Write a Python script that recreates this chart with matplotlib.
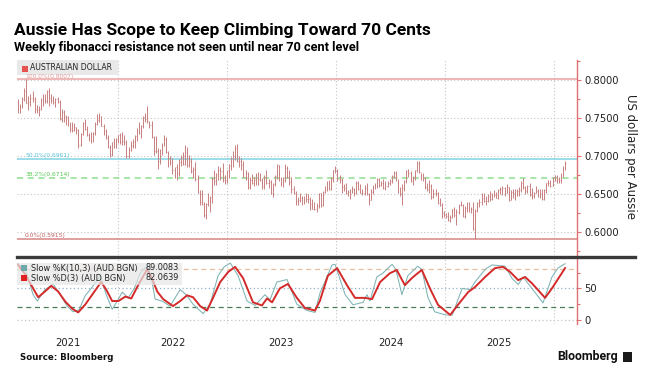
import matplotlib
matplotlib.use("Agg")
import matplotlib.pyplot as plt
import matplotlib.dates as mdates
from matplotlib.lines import Line2D
from matplotlib.patches import Rectangle
from matplotlib.ticker import FixedLocator, FixedFormatter, MultipleLocator, NullFormatter
import pandas as pd

plt.rcParams["font.family"] = ["DejaVu Sans"]

# ------------------------------------------------------------------
# weekly AUD/USD bars (week ending Friday)
# ------------------------------------------------------------------
FIRST_WEEK = "2021-01-29"
FIRST_OPEN = 0.771

week_close = [
    # 2021
    .764, .766, .775, .785, .770, .771, .776, .775, .762, .760, .762, .774, .774, .772, .785, .776, .773,
    .771, .775, .771, .749, .758, .751, .747, .740, .736, .734, .738, .734, .714, .729, .743, .735, .727,
    .727, .722, .730, .742, .747, .752, .740, .733, .724, .712, .702, .718, .713, .722, .727,
    # 2022
    .718, .720, .718, .700, .708, .713, .719, .726, .735, .730, .740, .751, .749, .746, .741, .725, .707,
    .707, .693, .704, .716, .722, .705, .698, .692, .681, .685, .677, .692, .699, .690, .711, .688, .693,
    .680, .683, .670, .652, .640, .637, .622, .637, .640, .646, .670, .667, .676, .681, .680, .669, .668, .681,
    # 2023
    .688, .697, .697, .711, .693, .693, .688, .673, .677, .659, .669, .664, .669, .667, .670, .669, .661,
    .673, .664, .666, .652, .663, .674, .688, .668, .666, .669, .684, .673, .666, .657, .651, .641, .642,
    .645, .639, .643, .644, .643, .637, .631, .630, .634, .651, .636, .653, .657, .666, .657, .670, .681, .682,
    # 2024
    .670, .668, .659, .658, .651, .653, .654, .656, .651, .665, .656, .652, .652, .658, .650, .642, .653,
    .661, .661, .670, .662, .665, .658, .661, .665, .667, .674, .678, .669, .654, .651, .658, .667, .680,
    .677, .667, .671, .681, .691, .679, .674, .671, .659, .657, .661, .646, .651, .651, .638, .636, .625, .621,
    # 2025
    .621, .616, .620, .630, .622, .627, .636, .636, .621, .632, .630, .628, .631, .604, .628, .638, .640,
    .645, .641, .641, .648, .643, .650, .649, .645, .655, .656, .658, .651, .659, .642, .653, .652, .649,
    .654, .655, .665, .659, .654, .660, .649, .648, .651, .654, .648, .654, .643, .655, .664, .665, .661, .672,
    # 2026
    .669, .670, .669, .675, .685, .691,
]
week_high = [
    .775, .768, .777, .789, .801, .779, .781, .785, .777, .767, .766, .776, .782, .782, .786, .789, .781,
    .779, .776, .778, .773, .762, .760, .754, .752, .744, .744, .743, .738, .735, .730, .745, .748, .740,
    .730, .732, .731, .744, .755, .756, .752, .742, .736, .728, .715, .719, .724, .724, .728,
    .730, .731, .727, .721, .712, .720, .722, .728, .737, .744, .741, .753, .756, .766, .746, .746, .726,
    .726, .710, .709, .717, .728, .725, .707, .700, .697, .686, .690, .696, .701, .705, .714, .712, .701,
    .698, .686, .692, .675, .655, .655, .640, .638, .652, .648, .672, .681, .678, .687, .685, .691, .675, .682,
    .689, .699, .706, .714, .716, .700, .698, .693, .681, .679, .672, .676, .673, .677, .679, .678, .671,
    .675, .682, .670, .669, .665, .675, .690, .688, .673, .672, .690, .687, .682, .672, .661, .654, .646,
    .652, .647, .648, .652, .650, .646, .643, .639, .638, .652, .652, .654, .660, .667, .669, .673, .682, .687,
    .683, .675, .671, .663, .665, .655, .656, .661, .658, .667, .667, .663, .656, .662, .664, .652, .656,
    .662, .664, .671, .671, .667, .670, .667, .667, .670, .675, .680, .680, .670, .659, .663, .669, .681,
    .683, .680, .674, .682, .693, .694, .678, .677, .672, .664, .669, .663, .656, .656, .653, .645, .638, .628,
    .625, .627, .622, .631, .633, .630, .637, .641, .637, .634, .639, .639, .633, .639, .630, .639, .644,
    .651, .651, .647, .650, .654, .652, .655, .653, .656, .659, .660, .659, .663, .659, .655, .657, .657,
    .656, .659, .667, .671, .661, .662, .664, .658, .653, .661, .656, .657, .656, .656, .665, .668, .668, .673,
    .675, .675, .673, .677, .687, .693,
]
week_low = [
    .757, .756, .763, .772, .769, .760, .765, .771, .756, .757, .753, .761, .766, .770, .769, .765, .770,
    .768, .764, .769, .747, .745, .745, .741, .739, .731, .732, .733, .729, .711, .713, .727, .734, .726,
    .720, .717, .718, .728, .741, .744, .739, .727, .722, .711, .699, .700, .710, .711, .717,
    .716, .715, .714, .697, .698, .707, .711, .710, .720, .729, .724, .737, .745, .743, .737, .723, .701,
    .704, .683, .689, .701, .713, .704, .685, .688, .676, .671, .668, .674, .687, .688, .688, .686, .685,
    .677, .671, .667, .651, .636, .635, .620, .617, .634, .627, .638, .662, .662, .668, .668, .666, .663, .664,
    .671, .682, .686, .695, .692, .686, .681, .672, .669, .657, .656, .663, .661, .662, .662, .667, .657,
    .657, .663, .658, .650, .646, .660, .670, .667, .660, .659, .666, .671, .662, .651, .650, .636, .636,
    .640, .636, .637, .640, .638, .629, .630, .629, .627, .632, .633, .634, .651, .654, .655, .655, .666, .677,
    .667, .664, .652, .654, .650, .647, .644, .651, .648, .650, .655, .651, .649, .649, .649, .636, .642,
    .650, .656, .658, .659, .660, .657, .655, .659, .662, .664, .671, .667, .651, .648, .635, .654, .665,
    .673, .666, .662, .669, .679, .677, .669, .667, .657, .654, .651, .643, .645, .648, .637, .634, .618, .620,
    .618, .615, .613, .619, .620, .609, .624, .634, .620, .619, .626, .627, .625, .603, .5915, .626, .633,
    .636, .640, .636, .640, .641, .642, .646, .645, .643, .650, .649, .648, .651, .641, .642, .645, .642,
    .647, .648, .653, .657, .650, .652, .648, .644, .645, .651, .646, .645, .642, .642, .652, .660, .659, .660,
    .667, .665, .664, .665, .672, .682,
]

# fibonacci retracement levels
fib_names = ["100.0%", "50.0%", "38.2%", "0.0%"]
fib_levels = [0.8007, 0.6961, 0.6714, 0.5915]
fib_line_colors = ["#eba3a3", "#7fd3e3", "#8fdf8f", "#d98585"]
fib_text_colors = ["#e49a9a", "#5cc6de", "#55c955", "#c25c5c"]
fib_styles = ["-", "-", (0, (4, 3)), "-"]

# slow stochastic
k_dates = [
    "2021-01-28", "2021-02-23", "2021-03-21", "2021-04-04", "2021-04-30", "2021-05-27", "2021-06-20",
    "2021-07-13", "2021-08-02", "2021-08-22", "2021-09-11", "2021-10-05", "2021-11-01", "2021-11-21",
    "2021-12-11", "2021-12-28", "2022-01-14", "2022-02-03", "2022-02-23", "2022-03-16", "2022-04-07",
    "2022-04-20", "2022-05-04", "2022-05-27", "2022-06-23", "2022-07-27", "2022-08-16", "2022-09-08",
    "2022-10-12", "2022-11-04", "2022-12-01", "2022-12-21", "2023-01-11", "2023-02-06", "2023-03-08",
    "2023-04-04", "2023-05-07", "2023-05-24", "2023-06-16", "2023-07-20", "2023-08-22", "2023-09-25",
    "2023-10-22", "2023-11-07", "2023-12-18", "2023-12-28", "2024-01-31", "2024-02-26", "2024-03-31",
    "2024-04-13", "2024-04-23", "2024-05-16", "2024-06-05", "2024-07-06", "2024-07-19", "2024-08-08",
    "2024-08-28", "2024-09-30", "2024-10-14", "2024-11-03", "2024-11-26", "2025-01-01", "2025-01-24",
    "2025-02-26", "2025-03-25", "2025-04-10", "2025-05-14", "2025-06-06", "2025-07-20", "2025-08-12",
    "2025-09-02", "2025-09-18", "2025-10-18", "2025-11-24", "2025-12-24", "2026-01-13", "2026-02-06",
]
k_vals = [
    88, 80, 40, 30, 48, 57, 40, 22, 13, 16, 38, 52, 70, 40, 17, 30, 44, 35, 50, 75, 85,
    70, 33, 30, 22, 48, 40, 25, 10, 25, 70, 84, 90, 70, 30, 23, 40, 32, 60, 64, 25, 15,
    12, 42, 87, 88, 40, 24, 28, 40, 30, 68, 74, 88, 80, 40, 70, 85, 80, 36, 13, 8, 8,
    50, 48, 60, 80, 87, 85, 66, 56, 68, 50, 27, 68, 82, 89,
]
d_dates = [
    "2021-01-28", "2021-02-23", "2021-03-21", "2021-04-07", "2021-04-27", "2021-05-21", "2021-06-13",
    "2021-07-07", "2021-07-30", "2021-08-19", "2021-09-11", "2021-10-05", "2021-11-04", "2021-11-21",
    "2021-12-11", "2022-01-01", "2022-01-24", "2022-02-13", "2022-03-08", "2022-04-07", "2022-04-24",
    "2022-05-11", "2022-05-31", "2022-07-03", "2022-07-27", "2022-08-19", "2022-09-08", "2022-10-02",
    "2022-10-25", "2022-11-14", "2022-12-08", "2023-01-04", "2023-01-27", "2023-02-23", "2023-03-28",
    "2023-04-27", "2023-05-14", "2023-05-31", "2023-06-26", "2023-07-23", "2023-08-22", "2023-09-18",
    "2023-10-22", "2023-11-07", "2023-12-04", "2024-01-04", "2024-02-06", "2024-03-04", "2024-04-06",
    "2024-04-30", "2024-05-27", "2024-06-29", "2024-07-22", "2024-08-18", "2024-09-10", "2024-09-30",
    "2024-10-14", "2024-11-10", "2024-12-07", "2025-01-17", "2025-02-12", "2025-03-18", "2025-04-10",
    "2025-05-14", "2025-06-16", "2025-07-13", "2025-08-06", "2025-09-02", "2025-09-25", "2025-10-18",
    "2025-12-01", "2025-12-24", "2026-02-06",
]
d_vals = [
    88, 72, 50, 36, 44, 54, 45, 29, 18, 12, 24, 40, 60, 48, 30, 30, 37, 34, 55, 80, 65,
    45, 33, 22, 30, 39, 36, 22, 15, 35, 60, 76, 84, 66, 28, 23, 34, 28, 50, 57, 35, 19,
    15, 30, 70, 82, 55, 35, 35, 33, 60, 74, 79, 55, 66, 74, 79, 50, 24, 8, 24, 44, 52,
    68, 82, 84, 76, 63, 68, 58, 35, 50, 82,
]
K_LAST = "89.0083"
D_LAST = "82.0639"

year_labels = ["2021", "2022", "2023", "2024", "2025"]
year_label_dates = ["2021-07-15", "2022-07-01", "2023-07-01", "2024-07-01", "2025-07-01"]
year_starts = ["2022-01-01", "2023-01-01", "2024-01-01", "2025-01-01", "2026-01-01"]
price_ticks = [0.60, 0.65, 0.70, 0.75, 0.80]
stoch_ticks = [0, 50]
stoch_levels = [80, 50, 20, 0]

assert len(week_close) == len(week_high) == len(week_low)

# ------------------------------------------------------------------
W, H = 654, 385
fig = plt.figure(figsize=(W / 100, H / 100), dpi=100)
fig.patch.set_facecolor("white")

L, R = 17, 577
ax = fig.add_axes([L / W, 1 - 255 / H, (R - L) / W, 195 / H])
ax2 = fig.add_axes([L / W, 1 - 324 / H, (R - L) / W, 66 / H], sharex=ax)

RED_AX = "#e07070"
TXT = "#222222"
GRID = "#c4c4c4"
BAR = "#c98080"

weeks = pd.date_range(FIRST_WEEK, periods=len(week_close), freq="7D")
xw = mdates.date2num(weeks)
opens = [FIRST_OPEN] + week_close[:-1]

# OHLC bars
ax.vlines(xw, week_low, week_high, colors=BAR, lw=0.7, zorder=3)
ax.hlines(opens, xw - 1.6, xw, colors=BAR, lw=0.5, zorder=3)
ax.hlines(week_close, xw, xw + 1.6, colors=BAR, lw=0.5, zorder=3)

# fibonacci lines and labels
x_lab = mdates.date2num(pd.Timestamp("2021-02-22"))
for name, lev, lc, tc, ls in zip(fib_names, fib_levels, fib_line_colors, fib_text_colors, fib_styles):
    ax.axhline(lev, color=lc, lw=1.1, ls=ls, zorder=2)
    ax.text(x_lab, lev + 0.0006, f"{name}({lev:.4f})", fontsize=4.3, color=tc,
            va="bottom", ha="left", zorder=7)

xmin = mdates.date2num(pd.Timestamp("2021-01-26"))
xmax = mdates.date2num(pd.Timestamp("2026-03-18"))
ax.set_xlim(xmin, xmax)
ax.set_ylim(0.570, 0.826)

# stochastic panel
kd = mdates.date2num(pd.to_datetime(k_dates))
dd = mdates.date2num(pd.to_datetime(d_dates))
ax2.plot(kd, k_vals, color="#7fb3b3", lw=0.75, zorder=3)
ax2.plot(dd, d_vals, color="#d42a2a", lw=1.4, zorder=4)
lvl_styles = [((0, (4, 3)), "#e6bfa0"), ((0, (1, 2)), "#8fb2c9"), ((0, (4, 3)), "#4b7a5d"), ((0, (1, 2)), "#c4c4c4")]
for lev, (ls, c) in zip(stoch_levels, lvl_styles):
    ax2.axhline(lev, color=c, lw=0.9, ls=ls, zorder=2)
ax2.set_ylim(-6.3, 98)

for a in (ax, ax2):
    for s in ("left", "top", "bottom"):
        a.spines[s].set_visible(False)
    a.spines["right"].set_color(RED_AX)
    a.spines["right"].set_linewidth(1.0)
    a.yaxis.tick_right()
    a.tick_params(axis="y", which="both", colors=RED_AX, labelcolor=TXT,
                  labelsize=7.2, length=3, width=0.8, pad=2)
    a.tick_params(axis="y", which="minor", length=2)
    a.xaxis.set_major_locator(FixedLocator(mdates.date2num(pd.to_datetime(year_starts))))
    a.grid(True, axis="x", which="major", color=GRID, lw=0.8, ls=(0, (1, 2)))

ax.yaxis.set_major_locator(FixedLocator(price_ticks))
ax.yaxis.set_minor_locator(MultipleLocator(0.025))
ax.set_yticklabels([f"{t:.4f}" for t in price_ticks])
ax.grid(True, axis="y", which="major", color=GRID, lw=0.8, ls=(0, (1, 2)))
ax.tick_params(axis="x", which="both", length=0, labelbottom=False)

ax2.yaxis.set_major_locator(FixedLocator(stoch_ticks))
ax2.yaxis.set_minor_locator(FixedLocator([25, 75]))
ax2.set_yticklabels([str(t) for t in stoch_ticks])
ax2.xaxis.set_minor_locator(FixedLocator(mdates.date2num(pd.to_datetime(year_label_dates))))
ax2.xaxis.set_major_formatter(NullFormatter())
ax2.xaxis.set_minor_formatter(FixedFormatter(year_labels))
ax2.tick_params(axis="x", which="both", length=0, labelsize=7.2, labelcolor=TXT, pad=10)

# right axis title
fig.text(630 / W, 1 - 157 / H, "US dollars per Aussie", rotation=270, fontsize=8.5,
         color=TXT, va="center", ha="center")

# legends
ax.add_patch(Rectangle((0, 0.925), 0.18, 0.075, transform=ax.transAxes,
                       facecolor="#e6e6e6", edgecolor="none", alpha=0.85, zorder=5))
ax.add_patch(Rectangle((5 / 560, 0.937), 5.5 / 560, 0.03, transform=ax.transAxes,
                       facecolor="#e8534f", edgecolor="none", zorder=6))
ax.text(13 / 560, 0.9625, "AUSTRALIAN DOLLAR", transform=ax.transAxes, fontsize=5.6,
        color=TXT, va="center", ha="left", zorder=6)

ax2.add_patch(Rectangle((0, 0.59), 0.295, 0.33, transform=ax2.transAxes,
                        facecolor="#e6e6e6", edgecolor="none", alpha=0.7, zorder=5))
leg_rows = [("Slow %K(10,3) (AUD BGN)", K_LAST, "#6fa9a9", 268),
            ("Slow %D(3) (AUD BGN)", D_LAST, "#e02020", 278)]
for lab, val, col, ypx in leg_rows:
    yy = (324 - ypx) / 66
    ax2.add_patch(Rectangle((4 / 560, yy - 0.045), 5.5 / 560, 0.09, transform=ax2.transAxes,
                            facecolor=col, edgecolor="none", zorder=6))
    ax2.text(14 / 560, yy, lab, transform=ax2.transAxes, fontsize=5.9, color=TXT,
             va="center", ha="left", zorder=6)
    ax2.text(128 / 560, yy, val, transform=ax2.transAxes, fontsize=5.9, color=TXT,
             va="center", ha="left", zorder=6)

# divider between panels
fig.add_artist(Line2D([L / W, 635 / W], [1 - 256.5 / H] * 2, color="#3a3a3a", lw=2.4))

# titles and footer
fig.text(14 / W, 1 - 30.5 / H, "Aussie Has Scope to Keep Climbing Toward 70 Cents",
         fontsize=12.5, fontweight="bold", family=["Roboto", "DejaVu Sans"], va="center", ha="left")
fig.text(14 / W, 1 - 47 / H, "Weekly fibonacci resistance not seen until near 70 cent level",
         fontsize=9.2, fontweight="bold", family=["Roboto", "DejaVu Sans"], va="center", ha="left")
fig.text(20 / W, 1 - 357 / H, "Source: Bloomberg", fontsize=6.2, fontweight="bold",
         va="center", ha="left", color="#111111")
fig.text(618 / W, 1 - 356.5 / H, "Bloomberg", fontsize=8.9, fontweight="bold",
         family=["Roboto", "DejaVu Sans"], va="center", ha="right", color="#111111")
fig.add_artist(Rectangle((623 / W, 1 - 362 / H), 9 / W, 10 / H, facecolor="#1a1a1a",
                         edgecolor="none", transform=fig.transFigure))

fig.savefig("out.png", dpi=100, facecolor="white")
